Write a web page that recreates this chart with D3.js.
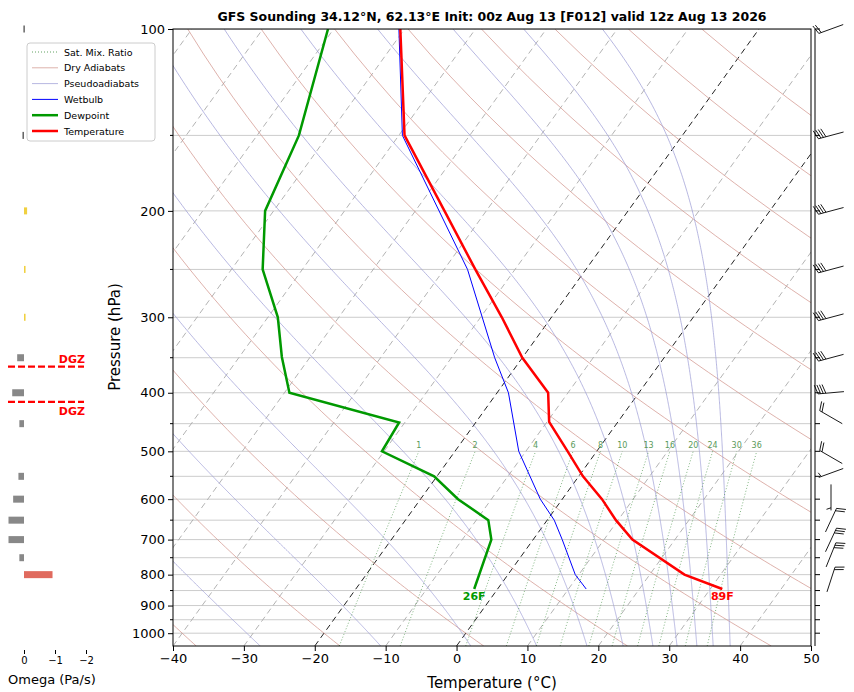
<!DOCTYPE html>
<html><head><meta charset="utf-8">
<script src="https://cdn.jsdelivr.net/npm/d3@7"></script>
<style>body{margin:0;background:#fff}svg{font-family:"DejaVu Sans",sans-serif}</style>
</head><body><svg id="c" width="854" height="692"></svg>
<script>
// sounding data
var tempP = [100,150,200,250,300,350,400,447,500,550,600,650,700,800,845];
var tempT = [-70.6,-59.2,-45.9,-35.6,-27,-20,-12.8,-9.7,-4.1,0.6,5.6,9.7,14.0,24.9,31.7];
var dewP  = [100,150,200,250,300,349,400,448,500,550,600,650,700,845];
var dewT  = [-80.8,-74.1,-71.2,-65.6,-58.6,-54,-49.3,-30.8,-30.3,-20.4,-14.7,-8.3,-5.9,-3.3];
var wetP  = [100,150,250,350,400,500,600,650,700,800,845];
var wetT  = [-70.8,-59.5,-36.7,-23.9,-18.4,-11,-3.1,1.0,4.1,9.5,12.5];
var windP   = [100,150,200,250,300,350,400,439,511,543,596,650,701,742,815];
var windDir = [250,255,255,255,255,255,265,300,300,250,180,25,25,22,18];
var windSpd = [20,40,40,40,40,40,40,20,20,5,5,20,30,30,20];
var omegaP = [100,150,200,250,300,350,400,450,550,600,650,700,750,800];
var omegaV = [0.02,0.05,-0.1,-0.05,-0.05,0.22,0.38,0.15,0.18,0.35,0.5,0.5,0.15,-0.92];
var mixW = [1,2,4,6,8,10,13,16,20,24,30,36];
var dryT0 = d3.range(-40,201,20);                 // potential temperature (°C at 1000 hPa)
var moistT0 = [-27.7,-10.7,2,11.3,18.4,23.5,27.7,31.1,33.9,36.2,38.6]; // °C at 1050 hPa
var pLabels = [100,200,300,400,500,600,700,800,900,1000];
var pGrid = d3.range(100,1001,50);
var tTicks = d3.range(-40,51,10);
var dgzP = [362,414];

var svg = d3.select("#c");
var L=173,R=811,T=29,B=646, skew=0.72;
var x = d3.scaleLinear().domain([-40,50]).range([L,R]);
var y = d3.scaleLog().domain([1050,100]).range([B,T]);
function px(t,p){ return x(t) + (B - y(p))*skew; }
var line = d3.line().x(function(d){return px(d[1],d[0]);}).y(function(d){return y(d[0]);});

svg.append("defs").append("clipPath").attr("id","clip").append("rect")
  .attr("x",L).attr("y",T).attr("width",R-L).attr("height",B-T);
var g = svg.append("g").attr("clip-path","url(#clip)");

// pressure grid
pGrid.forEach(function(p){
  g.append("line").attr("x1",L).attr("x2",R).attr("y1",y(p)).attr("y2",y(p))
   .attr("stroke","#cccccc").attr("stroke-width",1);
});
// isotherms
d3.range(-120,60,10).forEach(function(t){
  var hi = (t==0||t==-20);
  g.append("path").attr("d",line([[1050,t],[100,t]])).attr("fill","none")
   .attr("stroke",hi?"#222":"#aaa").attr("stroke-width",hi?1:0.9)
   .attr("stroke-dasharray","6,4");
});
var pAll = d3.range(1050,99,-10);
// dry adiabats
dryT0.forEach(function(t0){
  var th=t0+273.15;
  g.append("path").attr("d",line(pAll.map(function(p){return [p, th*Math.pow(p/1000,0.2857)-273.15];})))
   .attr("fill","none").attr("stroke","#d09088").attr("stroke-width",0.7);
});
// moist adiabats
function es(tc){return 6.112*Math.exp(17.67*tc/(tc+243.5));}
function dTdp(tk,p){
  var Rd=287.04,Cp=1005.7,Lv=2.501e6,eps=0.622;
  var rs=eps*es(tk-273.15)/(p-es(tk-273.15));
  return (1/p)*(Rd*tk+Lv*rs)/(Cp+Lv*Lv*rs*eps/(Rd*tk*tk));
}
moistT0.forEach(function(t0){
  var pts=[], tk=t0+273.15, p=1050, dp=-2;
  while(p>=100){ pts.push([p,tk-273.15]); var k1=dTdp(tk,p), k2=dTdp(tk+k1*dp,p+dp); tk+=0.5*(k1+k2)*dp; p+=dp; }
  g.append("path").attr("d",line(pts)).attr("fill","none")
   .attr("stroke","#9a9ad4").attr("stroke-width",0.7);
});
// mixing ratio lines
function tdOf(w,p){var e=w*p/(622+w), l=Math.log(e/6.112); return 243.5*l/(17.67-l);}
mixW.forEach(function(w){
  var pts=d3.range(1050,499,-10).map(function(p){return [p,tdOf(w,p)];});
  g.append("path").attr("d",line(pts)).attr("fill","none").attr("stroke","#3a8a3a")
   .attr("stroke-width",0.8).attr("stroke-dasharray","1,2").attr("opacity",0.8);
  g.append("text").attr("x",px(tdOf(w,500),500)).attr("y",y(500)-3).attr("text-anchor","middle")
   .attr("font-size",8).attr("fill","#5a9a5a").text(w);
});
// profiles
function prof(P,Tv,col,w){
  g.append("path").attr("d",line(P.map(function(p,i){return [p,Tv[i]];})))
   .attr("fill","none").attr("stroke",col).attr("stroke-width",w);
}
prof(wetP,wetT,"#0000ff",1);
prof(dewP,dewT,"#009900",2.5);
prof(tempP,tempT,"#ff0000",2.5);
var sfc=tempP.length-1, sd=dewP.length-1;
svg.append("text").attr("x",px(tempT[sfc],tempP[sfc])).attr("y",y(tempP[sfc])+11).attr("text-anchor","middle")
  .attr("font-size",11).attr("font-weight","bold").attr("fill","#ff0000").text(Math.round(tempT[sfc]*9/5+32)+"F");
svg.append("text").attr("x",px(dewT[sd],dewP[sd])).attr("y",y(dewP[sd])+11).attr("text-anchor","middle")
  .attr("font-size",11).attr("font-weight","bold").attr("fill","#009900").text(Math.round(dewT[sd]*9/5+32)+"F");

// frame and axes
svg.append("rect").attr("x",L).attr("y",T).attr("width",R-L).attr("height",B-T).attr("fill","none").attr("stroke","#000");
svg.append("g").attr("transform","translate(0,"+B+")").call(d3.axisBottom(x).tickValues(tTicks).tickSize(5).tickFormat(function(d){return d<0?"\u2212"+(-d):d;}))
  .call(function(a){a.select(".domain").remove();a.selectAll("text").attr("font-size",13).attr("font-family","DejaVu Sans");});
svg.append("g").attr("transform","translate("+L+",0)").call(d3.axisLeft(y).tickValues(pLabels).tickSize(5).tickFormat(d3.format("d")))
  .call(function(a){a.select(".domain").remove();a.selectAll("text").attr("font-size",13).attr("font-family","DejaVu Sans");});
pGrid.filter(function(p){return pLabels.indexOf(p)<0;}).forEach(function(p){
  svg.append("line").attr("x1",L-3).attr("x2",L).attr("y1",y(p)).attr("y2",y(p)).attr("stroke","#000");
});
svg.append("text").attr("x",492).attr("y",688).attr("text-anchor","middle").attr("font-size",15).text("Temperature (\u00b0C)");
svg.append("text").attr("transform","translate(120,337) rotate(-90)").attr("text-anchor","middle").attr("font-size",15).text("Pressure (hPa)");
svg.append("text").attr("x",492).attr("y",21).attr("text-anchor","middle").attr("font-size",12.5).attr("font-weight","bold")
  .text("GFS Sounding 34.12\u00b0N, 62.13\u00b0E Init: 00z Aug 13 [F012] valid 12z Aug 13 2026");

// wind barb axis
svg.append("line").attr("x1",815).attr("x2",815).attr("y1",T).attr("y2",B).attr("stroke","#000");
pGrid.forEach(function(p){svg.append("line").attr("x1",815).attr("x2",820).attr("y1",y(p)).attr("y2",y(p)).attr("stroke","#000");});
windP.forEach(function(p,i){
  var a=windDir[i]*Math.PI/180, len=26, cx=831, cy=y(p);
  var dx=Math.sin(a), dy=-Math.cos(a);
  var ex=cx+dx*len/2, ey=cy+dy*len/2, sx=cx-dx*len/2, sy=cy-dy*len/2;
  var gb=svg.append("g").attr("stroke","#000").attr("stroke-width",0.9).attr("fill","none");
  gb.append("line").attr("x1",sx).attr("y1",sy).attr("x2",ex).attr("y2",ey);
  var s=windSpd[i], pos=0, bx=-dy, by=dx;
  while(s>=10){ var qx=ex-dx*pos, qy=ey-dy*pos;
    gb.append("line").attr("x1",qx).attr("y1",qy).attr("x2",qx+bx*9+dx*3).attr("y2",qy+by*9+dy*3); s-=10; pos+=2.6; }
  if(s>=5){ if(pos==0)pos=2.6; var qx2=ex-dx*pos, qy2=ey-dy*pos;
    gb.append("line").attr("x1",qx2).attr("y1",qy2).attr("x2",qx2+bx*4.5+dx*1.5).attr("y2",qy2+by*4.5+dy*1.5); }
});

// omega panel
var ox = d3.scaleLinear().domain([0,-2]).range([24,86]);
omegaP.forEach(function(p,i){
  var v=omegaV[i], col = v<-0.5?"#e06a5e":(v<0?"#f0d040":"#888");
  if(p<=150&&v>=0) col="#666";
  svg.append("rect").attr("x",Math.min(ox(v),ox(0))).attr("y",y(p)-3.5).attr("width",Math.max(1.5,Math.abs(ox(v)-ox(0))))
    .attr("height",7).attr("fill",col);
});
svg.append("g").attr("transform","translate(0,650)").call(d3.axisBottom(ox).tickValues([0,-1,-2]).tickSize(4).tickFormat(function(d){return d<0?"\u2212"+(-d):d;}))
  .call(function(a){a.select(".domain").remove();a.selectAll("text").attr("font-size",10).attr("font-family","DejaVu Sans");});
svg.append("text").attr("x",8).attr("y",684).attr("font-size",13).text("Omega (Pa/s)");
dgzP.forEach(function(p,i){
  svg.append("line").attr("x1",8).attr("x2",84).attr("y1",y(p)).attr("y2",y(p)).attr("stroke","#ff0000")
   .attr("stroke-width",2.2).attr("stroke-dasharray","7,3");
  svg.append("text").attr("x",85).attr("y",i==0?y(p)-4:y(p)+13).attr("text-anchor","end").attr("font-size",11)
   .attr("font-weight","bold").attr("fill","#ff0000").text("DGZ");
});

// legend
var leg=[["Sat. Mix. Ratio","#3a8a3a",0.8,"1,2"],["Dry Adiabats","#d09088",0.7,null],["Pseudoadiabats","#9a9ad4",0.7,null],
  ["Wetbulb","#0000ff",1,null],["Dewpoint","#009900",2.5,null],["Temperature","#ff0000",2.5,null]];
var lg=svg.append("g");
lg.append("rect").attr("x",27).attr("y",43).attr("width",128).attr("height",98).attr("rx",3)
  .attr("fill","#fff").attr("stroke","#ccc");
leg.forEach(function(d,i){
  var yy=52+i*15.8;
  lg.append("line").attr("x1",32).attr("x2",58).attr("y1",yy).attr("y2",yy).attr("stroke",d[1]).attr("stroke-width",d[2])
    .attr("stroke-dasharray",d[3]);
  lg.append("text").attr("x",64).attr("y",yy+3.5).attr("font-size",9.5).text(d[0]);
});
</script></body></html>
